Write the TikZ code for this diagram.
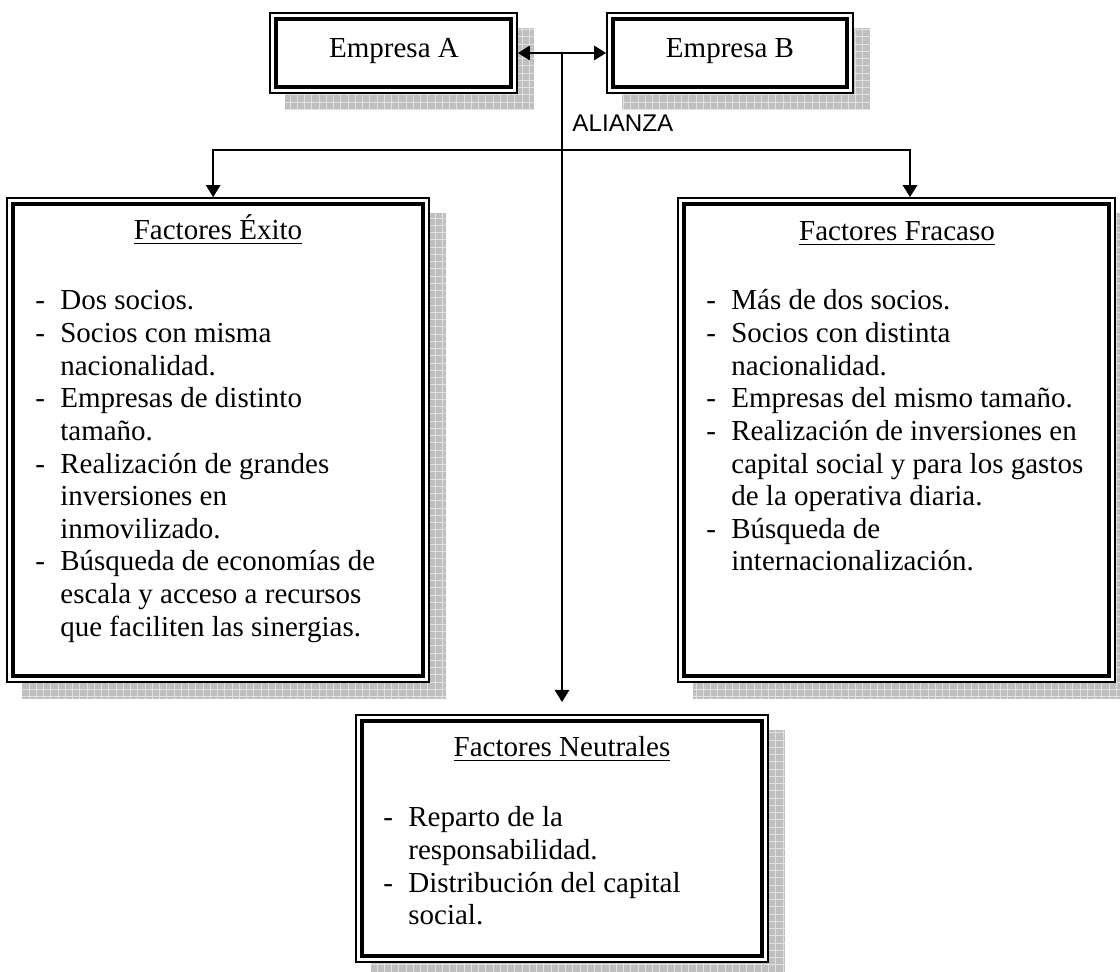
\documentclass[tikz,border=0pt]{standalone}
\usepackage{fontspec}
\setmainfont{Liberation Serif}
\newfontfamily\arialfont{Liberation Sans}
\usetikzlibrary{arrows.meta,fit,backgrounds,patterns}

\newcommand{\gu}{\makebox[10.3pt][l]{-}}

\tikzset{
  caja/.style={draw, line width=0.75pt, fill=white, inner sep=0pt,
    path picture={\draw[line width=1.5pt]
      ([shift={(2.6pt,-2.6pt)}]path picture bounding box.north west) rectangle
      ([shift={(-2.6pt,2.6pt)}]path picture bounding box.south east);}},
  sombra/.style={fill=black!25, postaction={pattern=grid, pattern color=white!88!black}},
  titulo/.style={anchor=base},
  lista/.style={anchor=base west, inner sep=0pt},
  flecha/.style={line width=0.7pt, ->},
}

\begin{document}
\begin{tikzpicture}[x=0.4138pt, y=-0.4138pt, font=\fontsize{12}{13.5}\selectfont,
  >={Triangle[length=5pt,width=6pt]}]
  \useasboundingbox (0,0) rectangle (1120,972);
  % empresas
  \node[caja, fit={(270,13) (517,93)}] (empA) {};
  \node[caja, fit={(607,13) (853,93)}] (empB) {};
  \node[titulo] (empAT) at (394,58) {Empresa A};
  \node[titulo] (empBT) at (730,58) {Empresa B};
  % factores
  \node[caja, fit={(7,198) (429,682)}] (exito) {};
  \node[caja, fit={(678,198) (1115,682)}] (fracaso) {};
  \node[caja, fit={(356,715) (768,962)}] (neutral) {};
  \begin{scope}[on background layer]
    \foreach \n in {empA,empB,exito,fracaso,neutral}
      \fill[sombra] ([shift={(6.6pt,-6.6pt)}]\n.north west) rectangle ([shift={(6.6pt,-6.6pt)}]\n.south east);
  \end{scope}

  \node[titulo] (exitoT) at (218,240) {\underline{Factores Éxito}};
  \node[lista] (exitoL) at (35,310) {\begin{tabular}[t]{@{}l@{}l@{}}
    \gu & Dos socios.\\
    \gu & Socios con misma\\
        & nacionalidad.\\
    \gu & Empresas de distinto\\
        & tamaño.\\
    \gu & Realización de grandes\\
        & inversiones en\\
        & inmovilizado.\\
    \gu & Búsqueda de economías de\\
        & escala y acceso a recursos\\
        & que faciliten las sinergias.
  \end{tabular}};

  \node[titulo] (fracasoT) at (897,241) {\underline{Factores Fracaso}};
  \node[lista] (fracasoL) at (706,310) {\begin{tabular}[t]{@{}l@{}l@{}}
    \gu & Más de dos socios.\\
    \gu & Socios con distinta\\
        & nacionalidad.\\
    \gu & Empresas del mismo tamaño.\\
    \gu & Realización de inversiones en\\
        & capital social y para los gastos\\
        & de la operativa diaria.\\
    \gu & Búsqueda de\\
        & internacionalización.
  \end{tabular}};

  \node[titulo] (neutralT) at (562,757) {\underline{Factores Neutrales}};
  \node[lista] (neutralL) at (383,827) {\begin{tabular}[t]{@{}l@{}l@{}}
    \gu & Reparto de la\\
        & responsabilidad.\\
    \gu & Distribución del capital\\
        & social.
  \end{tabular}};

  % alianza
  \coordinate (enlace) at (562,53);
  \coordinate (cruce) at (562,150);
  \node[anchor=base west, inner sep=0pt, font=\arialfont\fontsize{10}{12}\selectfont]
    (alianza) at (572,132) {ALIANZA};
  \draw[line width=0.7pt, <->] (empA) -- (empB);
  \draw[flecha, shorten >=5pt] (enlace) -- (neutral);
  \draw[flecha] (cruce) -| ([xshift=-2pt]exito.north);
  \draw[flecha] (cruce) -| ([xshift=5.6pt]fracaso.north);
\end{tikzpicture}
\end{document}
